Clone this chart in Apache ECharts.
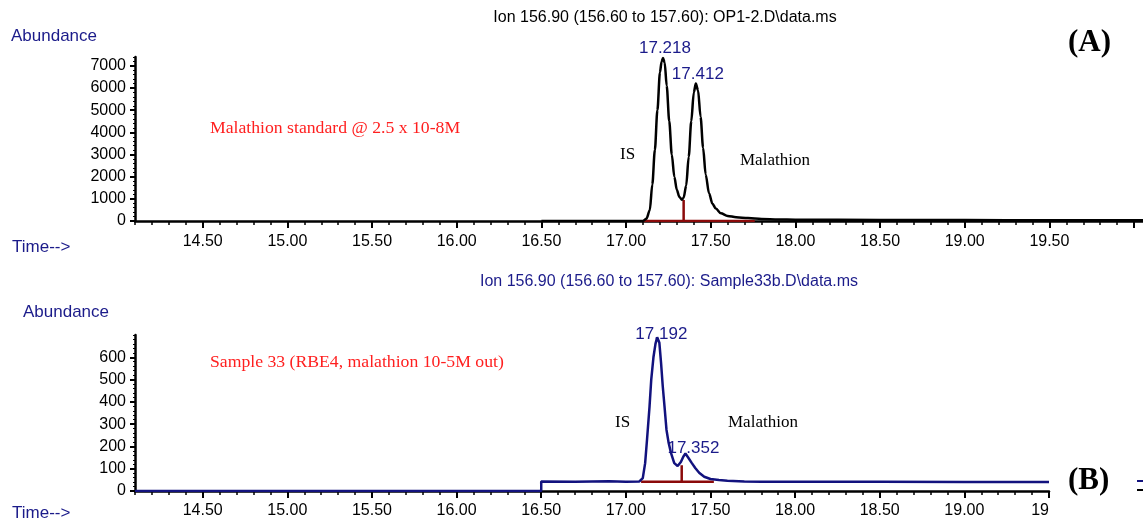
<!DOCTYPE html>
<html>
<head>
<meta charset="utf-8">
<script src="https://cdn.jsdelivr.net/npm/echarts@6/dist/echarts.min.js"></script>
<style>
  html, body { margin: 0; padding: 0; background: #fff; }
  #chart { width: 1143px; height: 522px; }
</style>
</head>
<body>
<div id="chart"></div>
<script>
// (A) malathion standard, ion 156.90
const stdTime = [16.50, 17.00, 17.10, 17.12, 17.14, 17.155, 17.17, 17.185, 17.20, 17.21, 17.218, 17.228, 17.24, 17.255, 17.27, 17.285, 17.30, 17.315, 17.33, 17.34, 17.355, 17.37, 17.385, 17.40, 17.412, 17.425, 17.44, 17.455, 17.47, 17.49, 17.51, 17.53, 17.56, 17.60, 17.65, 17.72, 17.80, 17.90, 18.00, 18.50, 19.00, 19.50, 20.10]
const stdAbund = [0, 0, 5, 100, 480, 1650, 3200, 5000, 6700, 7200, 7350, 7150, 6100, 4500, 3000, 2000, 1400, 1080, 960, 1050, 1600, 2900, 4500, 5800, 6200, 5900, 4700, 3300, 2100, 1250, 780, 560, 350, 230, 170, 130, 95, 70, 60, 45, 40, 35, 30]
const stdPeaks = [[17.218, 7350], [17.412, 6200]]
const stdBase = [[17.10, 0], [17.76, 0]]
const stdDrop = [[17.34, 0], [17.34, 950]]

// (B) sample 33, ion 156.90
const smpTime = [14.10, 16.50, 16.50, 16.70, 16.90, 17.00, 17.08, 17.10, 17.114, 17.125, 17.14, 17.15, 17.163, 17.175, 17.185, 17.192, 17.198, 17.208, 17.218, 17.23, 17.24, 17.253, 17.267, 17.286, 17.306, 17.325, 17.34, 17.352, 17.37, 17.39, 17.41, 17.433, 17.463, 17.50, 17.55, 17.60, 17.70, 17.80, 18.00, 18.50, 19.00, 19.50]
const smpAbund = [0, 0, 43, 41, 44, 42, 43, 58, 125, 230, 380, 500, 600, 660, 690, 692, 665, 575, 470, 365, 275, 215, 170, 125, 112, 130, 155, 168, 148, 125, 103, 82, 64, 54, 49, 46, 43, 42, 41, 41, 40, 40]
const smpPeaks = [[17.192, 692], [17.352, 168]]
const smpBase = [[17.09, 42], [17.52, 42]]
const smpDrop = [[17.33, 42], [17.33, 115]]

const timeLabelsA = [14.5, 15, 15.5, 16, 16.5, 17, 17.5, 18, 18.5, 19, 19.5]
const timeTicksA = [14.5, 15, 15.5, 16, 16.5, 17, 17.5, 18, 18.5, 19, 19.5, 20]
const timeLabelsB = [14.5, 15, 15.5, 16, 16.5, 17, 17.5, 18, 18.5, 19, 19.5]
const abundTicksA = [0, 1000, 2000, 3000, 4000, 5000, 6000, 7000]
const abundTicksB = [0, 100, 200, 300, 400, 500, 600]

const pair = (xs, ys) => xs.map((x, i) => [x, ys[i]])

const NAVY = '#1b1b8a'
const RED = '#ff1f1f'
const BROWN = '#8b0a0a'
const SANS = 'Liberation Sans, Arial, sans-serif'
const SERIF = 'Liberation Serif, Times New Roman, serif'

function minorX(grid, max) {
  return {
    type: 'value', gridIndex: grid, min: 14.1, max: max, interval: 0.1, position: 'bottom',
    axisLine: { show: true, lineStyle: { color: '#000', width: 2.5 } },
    axisTick: { show: true, length: 4, lineStyle: { color: '#000', width: 1.5 } },
    axisLabel: { show: false }, splitLine: { show: false }
  }
}
function majorX(grid, max, ticks, labels, clipLast, margin) {
  return {
    type: 'value', gridIndex: grid, min: 14.1, max: max, position: 'bottom',
    axisLine: { show: false },
    axisTick: { show: true, length: 7, customValues: ticks, lineStyle: { color: '#000', width: 2 } },
    axisLabel: {
      show: true, customValues: labels, margin: margin, color: '#000', fontSize: 16, fontFamily: SANS,
      alignMaxLabel: clipLast ? 'right' : null,
      formatter: v => (clipLast && v === 19.5) ? '19' : v.toFixed(2)
    },
    splitLine: { show: false }
  }
}
function minorY(grid, max, step) {
  return {
    type: 'value', gridIndex: grid, min: 0, max: max, interval: step, position: 'left',
    axisLine: { show: true, lineStyle: { color: '#000', width: 2.5 } },
    axisTick: { show: true, length: 2, lineStyle: { color: '#000', width: 1 } },
    axisLabel: { show: false }, splitLine: { show: false }
  }
}
function majorY(grid, max, ticks) {
  return {
    type: 'value', gridIndex: grid, min: 0, max: max, position: 'left',
    axisLine: { show: false },
    axisTick: { show: true, length: 5, customValues: ticks, lineStyle: { color: '#000', width: 2 } },
    axisLabel: {
      show: true, customValues: ticks, margin: 9, color: '#000', fontSize: 16, fontFamily: SANS,
      formatter: v => String(v)
    },
    splitLine: { show: false }
  }
}
function peakLabels(xi, yi, data, offsets) {
  return {
    type: 'scatter', xAxisIndex: xi, yAxisIndex: yi, symbolSize: 0, silent: true,
    itemStyle: { opacity: 1 },
    data: data.map((d, i) => ({ value: d, label: { offset: offsets[i] } })),
    label: {
      show: true, position: 'top', distance: 1, color: NAVY, fontSize: 17, fontFamily: SANS,
      formatter: p => p.value[0].toFixed(3)
    }
  }
}
function segment(xi, yi, data) {
  return {
    type: 'line', xAxisIndex: xi, yAxisIndex: yi, data: data, showSymbol: false, silent: true,
    lineStyle: { color: BROWN, width: 2.5 }, z: 3
  }
}
function txt(x, y, text, font, fill, align) {
  return { type: 'text', x: x, y: y, style: { text: text, font: font, fill: fill, align: align || 'left', verticalAlign: 'middle' } }
}

const chart = echarts.init(document.getElementById('chart'))
chart.setOption({
  animation: false,
  backgroundColor: '#fff',
  grid: [
    { left: 135, top: 57, width: 1016, height: 164, outerBoundsMode: 'none', containLabel: false },
    { left: 135, top: 335, width: 914, height: 156, outerBoundsMode: 'none', containLabel: false }
  ],
  xAxis: [
    minorX(0, 20.1), majorX(0, 20.1, timeTicksA, timeLabelsA, false, 13),
    minorX(1, 19.5), majorX(1, 19.5, timeLabelsB, timeLabelsB, true, 12)
  ],
  yAxis: [
    minorY(0, 7400, 200), majorY(0, 7400, abundTicksA),
    minorY(1, 700, 20), majorY(1, 700, abundTicksB)
  ],
  series: [
    segment(0, 0, stdBase), segment(0, 0, stdDrop),
    {
      type: 'line', xAxisIndex: 0, yAxisIndex: 0, data: pair(stdTime, stdAbund),
      showSymbol: false, smooth: 0.3, smoothMonotone: 'x', lineStyle: { color: '#000', width: 2.5 }, z: 4
    },
    peakLabels(0, 0, stdPeaks, [[2, 0], [2, 0]]),
    segment(2, 2, smpBase), segment(2, 2, smpDrop),
    {
      type: 'line', xAxisIndex: 2, yAxisIndex: 2, data: pair(smpTime, smpAbund),
      showSymbol: false, lineStyle: { color: '#12127e', width: 2.5 }, z: 4
    },
    peakLabels(2, 2, smpPeaks, [[3, 7], [8, 4]])
  ],
  graphic: [
    txt(11, 36, 'Abundance', '17px ' + SANS, NAVY),
    txt(12, 247, 'Time-->', '17px ' + SANS, NAVY),
    txt(665, 18, 'Ion 156.90 (156.60 to 157.60): OP1-2.D\\data.ms', '16px ' + SANS, '#000', 'center'),
    txt(210, 128, 'Malathion standard @ 2.5 x 10-8M', '17.7px ' + SERIF, RED),
    txt(620, 155, 'IS', '17px ' + SERIF, '#000'),
    txt(740, 161, 'Malathion', '17px ' + SERIF, '#000'),
    txt(1068, 43, '(A)', 'bold 31px ' + SERIF, '#000'),

    txt(23, 312, 'Abundance', '17px ' + SANS, NAVY),
    txt(12, 513, 'Time-->', '17px ' + SANS, NAVY),
    txt(669, 282, 'Ion 156.90 (156.60 to 157.60): Sample33b.D\\data.ms', '16px ' + SANS, NAVY, 'center'),
    txt(210, 362, 'Sample 33 (RBE4, malathion 10-5M out)', '17.7px ' + SERIF, RED),
    txt(615, 423, 'IS', '17px ' + SERIF, '#000'),
    txt(728, 423, 'Malathion', '17px ' + SERIF, '#000'),
    txt(1068, 481, '(B)', 'bold 31px ' + SERIF, '#000'),
    { type: 'line', shape: { x1: 1137, y1: 481, x2: 1143, y2: 481 }, style: { stroke: '#12127e', lineWidth: 2 } },
    { type: 'line', shape: { x1: 1137, y1: 490, x2: 1143, y2: 490 }, style: { stroke: '#000', lineWidth: 2 } }
  ]
})
</script>
</body>
</html>
